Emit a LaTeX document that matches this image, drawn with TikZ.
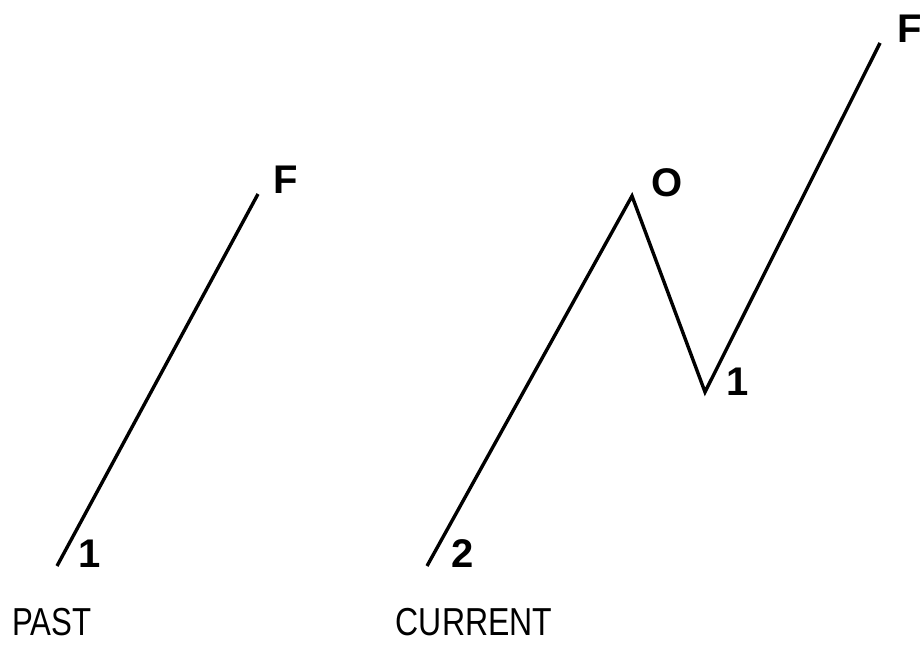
\documentclass[tikz,border=0pt]{standalone}
\usepackage{fontspec}
\setmainfont{Liberation Sans}
\usepackage{tikz}
\usepackage{xcolor}

\begin{document}
\begin{tikzpicture}[x=1pt, y=-1pt, line width=3.4pt,
    wavept/.style={inner sep=0pt, font=\fontsize{40}{40}\selectfont\bfseries},
    caption/.style={inner sep=0pt, font=\fontsize{39}{39}\selectfont}]
    \useasboundingbox (0,0) rectangle (922,645);
    % past
    \coordinate (p1) at (57,566);
    \coordinate (pF) at (258,194);
    \node[wavept] (l-p1) at (90,554) {1};
    \node[wavept] (l-pF) at (286,180) {F};
    \draw (p1) -- (pF);
    \node[caption] (past) at (52,622) {\scalebox{0.8}[1]{PAST}};
    % current
    \coordinate (c2) at (427,566);
    \coordinate (c0) at (632,196);
    \coordinate (c1) at (705,392);
    \coordinate (cF) at (880,43);
    \node[wavept] (l-c2) at (463,554) {2};
    \node[wavept] (l-c0) at (667,183) {O};
    \node[wavept] (l-c1) at (738,382) {1};
    \node[wavept] (l-cF) at (910,29) {F};
    \draw (c2) -- (c0) -- (c1) -- (cF);
    \node[caption] (current) at (474,622) {\scalebox{0.82}[1]{CURRENT}};
  \end{tikzpicture}
\end{document}
